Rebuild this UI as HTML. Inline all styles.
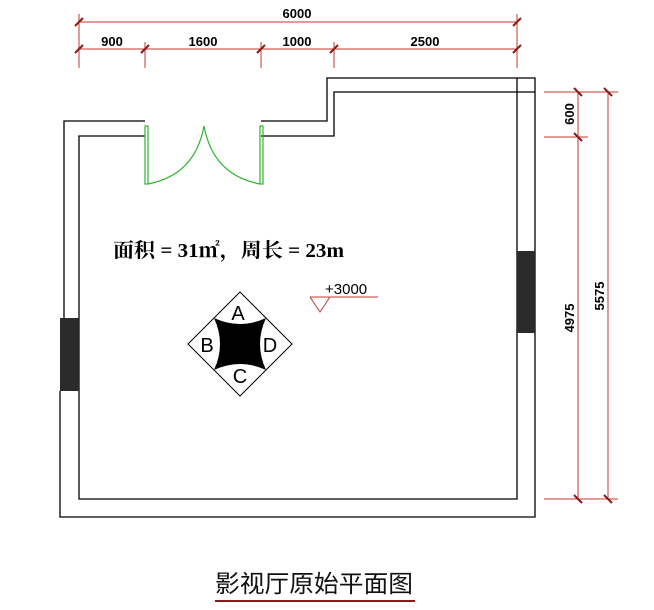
<!DOCTYPE html>
<html><head><meta charset="utf-8"><style>html,body{margin:0;padding:0;background:#fff}svg{display:block}</style></head>
<body>
<svg width="654" height="610" viewBox="0 0 654 610" xmlns="http://www.w3.org/2000/svg">
<g stroke="#c0392b" stroke-width="1" fill="none">
  <line x1="79" y1="22" x2="517" y2="22"/>
  <line x1="79" y1="49" x2="517" y2="49"/>
  <line x1="79" y1="14" x2="79" y2="68"/>
  <line x1="145" y1="42" x2="145" y2="68"/>
  <line x1="261" y1="42" x2="261" y2="68"/>
  <line x1="334" y1="42" x2="334" y2="68"/>
  <line x1="517" y1="14" x2="517" y2="68"/>
  <line x1="544" y1="92" x2="618" y2="92"/>
  <line x1="544" y1="137" x2="588" y2="137"/>
  <line x1="544" y1="499" x2="618" y2="499"/>
  <line x1="578" y1="92" x2="578" y2="499"/>
  <line x1="608" y1="92" x2="608" y2="499"/>
  <line x1="310" y1="297" x2="378" y2="297"/>
  <polyline points="310,297 320,312 330,297"/>
</g>
<g stroke="#8b1a1a" stroke-width="2">
  <line x1="75" y1="26" x2="83" y2="18"/><line x1="513" y1="26" x2="521" y2="18"/>
  <line x1="75" y1="53" x2="83" y2="45"/><line x1="141" y1="53" x2="149" y2="45"/>
  <line x1="257" y1="53" x2="265" y2="45"/><line x1="330" y1="53" x2="338" y2="45"/>
  <line x1="513" y1="53" x2="521" y2="45"/>
  <line x1="574" y1="88" x2="582" y2="96"/><line x1="604" y1="88" x2="612" y2="96"/>
  <line x1="574" y1="133" x2="582" y2="141"/>
  <line x1="574" y1="495" x2="582" y2="503"/><line x1="604" y1="495" x2="612" y2="503"/>
</g>
<g font-family="Liberation Sans, sans-serif" font-size="13" font-weight="bold" fill="#000" text-anchor="middle">
  <text x="297" y="18">6000</text>
  <text x="112" y="46">900</text>
  <text x="203" y="46">1600</text>
  <text x="297" y="46">1000</text>
  <text x="425" y="46">2500</text>
  <text transform="translate(574,114) rotate(-90)">600</text>
  <text transform="translate(574,318) rotate(-90)">4975</text>
  <text transform="translate(604,296) rotate(-90)">5575</text>
</g>
<g stroke="#000" stroke-width="1.3" fill="none">
  <polyline points="145,121 64,121 64,318"/>
  <polyline points="145,136 79,136 79,499 517,499 517,92 334,92 334,136 261,136"/>
  <polyline points="261,121 327,121 327,78 535,78 535,517 60,517 60,391"/>
  <line x1="517" y1="78" x2="517" y2="92"/>
  <line x1="517" y1="78" x2="535" y2="92" stroke="none"/>
  <line x1="517" y1="92" x2="535" y2="92"/>
</g>
<rect x="60" y="318" width="19" height="73" fill="#2b2b2b"/>
<rect x="517" y="251" width="18" height="82" fill="#2b2b2b"/>
<g stroke="#2db52d" stroke-width="1.2" fill="none">
  <rect x="145" y="126" width="3" height="58"/>
  <rect x="260" y="126" width="3" height="58"/>
  <path d="M148,184 Q195,175 204,126"/>
  <path d="M260,184 Q213,175 204,126"/>
</g>
<text x="113" y="257" font-family="Liberation Serif, 'Noto Serif CJK SC', serif" font-weight="bold" font-size="20" textLength="231" lengthAdjust="spacingAndGlyphs">面积 = 31㎡，周长 = 23m</text>
<text x="325" y="294" font-family="Liberation Sans, sans-serif" font-size="15" fill="#000">+3000</text>
<polygon points="240,292 292,344 240,396 188,344" fill="#fff" stroke="#000" stroke-width="1"/>
<path d="M214,318 Q240,330 266,318 Q254,344 266,370 Q240,358 214,370 Q226,344 214,318 Z" fill="#000"/>
<g font-family="Liberation Sans, sans-serif" font-size="20" fill="#000" text-anchor="middle">
  <text x="238" y="320">A</text>
  <text x="207" y="352">B</text>
  <text x="270" y="352">D</text>
  <text x="240" y="383">C</text>
</g>
<text x="215" y="592" font-family="'Noto Sans CJK SC', sans-serif" font-size="24" fill="#111" textLength="198" lengthAdjust="spacingAndGlyphs">影视厅原始平面图</text>
<rect x="215" y="600" width="200" height="2" fill="#8b1a1a"/>
</svg>
</body></html>
